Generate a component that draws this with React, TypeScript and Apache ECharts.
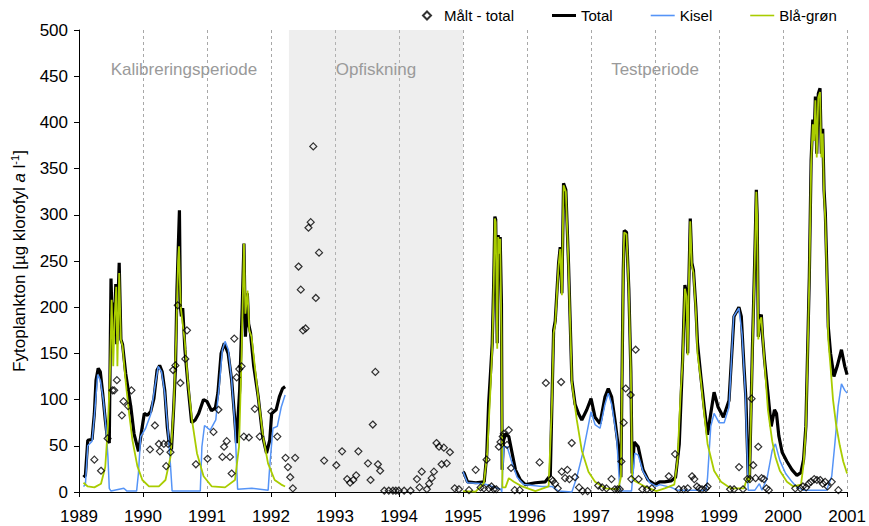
import React, { useEffect, useRef } from 'react';
import * as echarts from 'echarts';

const FONT = '"Liberation Sans", Arial, Helvetica, sans-serif';

const X_MIN = 1989;
const X_MAX = 2001;
const Y_MIN = 0;
const Y_MAX = 500;
const Y_STEP = 50;

const LEGEND_NAMES = ['Målt - total', 'Total', 'Kisel', 'Blå-grøn'];

const PERIODS = [
  { name: 'Kalibreringsperiode', from: 1989, to: 1992.28, shaded: false },
  { name: 'Opfiskning', from: 1992.28, to: 1995, shaded: true },
  { name: 'Testperiode', from: 1995, to: 2001, shaded: false },
];

// Model: total (calibration period)
const totalCal = [
  [1989.07,16],[1989.10,18],[1989.137,56],[1989.204,57],[1989.24,85],[1989.266,121],[1989.30,134],[1989.333,130],[1989.37,107],[1989.41,78],[1989.447,56],[1989.473,53],[1989.50,231],[1989.52,180],[1989.535,205],[1989.55,170],[1989.575,225],[1989.59,160],[1989.605,200],[1989.628,248],[1989.655,165],[1989.68,160],[1989.73,128],[1989.81,92],[1989.86,63],[1989.93,44],[1989.965,60],[1990.02,85],[1990.07,83],[1990.12,87],[1990.17,101],[1990.22,132],[1990.26,137],[1990.30,130],[1990.34,110],[1990.38,70],[1990.405,55],[1990.445,46],[1990.48,92],[1990.508,136],[1990.53,218],[1990.569,305],[1990.585,200],[1990.60,190],[1990.62,199],[1990.655,154],[1990.71,110],[1990.76,75],[1990.815,78],[1990.87,85],[1990.945,100],[1991.0,98],[1991.07,88],[1991.13,91],[1991.17,107],[1991.22,150],[1991.27,161],[1991.33,150],[1991.385,121],[1991.43,82],[1991.46,53],[1991.51,110],[1991.55,200],[1991.577,269],[1991.60,168],[1991.63,215],[1991.65,182],[1991.68,172],[1991.73,136],[1991.80,103],[1991.87,60],[1991.93,42],[1991.98,56],[1992.01,85],[1992.08,89],[1992.13,103],[1992.18,112],[1992.22,114]
];

const kiselCal = [
  [1989.07,6],[1989.10,8],[1989.137,50],[1989.204,55],[1989.24,82],[1989.292,127],[1989.333,121],[1989.38,100],[1989.42,71],[1989.452,38],[1989.473,4],[1989.50,1],[1989.70,4],[1989.75,1],[1989.90,1],[1989.928,20],[1989.964,60],[1990.041,69],[1990.12,84],[1990.186,114],[1990.238,136],[1990.29,130],[1990.34,107],[1990.393,64],[1990.43,28],[1990.455,1],[1990.895,1],[1990.92,49],[1990.961,72],[1991.05,67],[1991.137,78],[1991.19,114],[1991.24,154],[1991.282,163],[1991.333,154],[1991.385,121],[1991.437,71],[1991.478,3],[1991.70,4],[1991.955,2],[1991.98,28],[1992.03,69],[1992.098,71],[1992.16,92],[1992.22,105]
];

const greenCal = [
  [1989.07,10],[1989.137,6],[1989.24,5],[1989.344,9],[1989.41,27],[1989.452,71],[1989.483,127],[1989.51,208],[1989.535,136],[1989.555,186],[1989.582,222],[1989.60,136],[1989.628,237],[1989.654,165],[1989.68,158],[1989.731,118],[1989.783,85],[1989.835,56],[1989.912,28],[1989.99,13],[1990.093,6],[1990.248,6],[1990.351,13],[1990.43,38],[1990.48,92],[1990.517,165],[1990.548,250],[1990.562,266],[1990.575,230],[1990.59,200],[1990.62,182],[1990.65,165],[1990.703,118],[1990.765,78],[1990.843,42],[1990.946,17],[1991.075,6],[1991.282,5],[1991.437,13],[1991.50,49],[1991.54,147],[1991.577,269],[1991.60,193],[1991.633,218],[1991.66,175],[1991.695,168],[1991.747,136],[1991.80,103],[1991.876,60],[1991.953,31],[1992.057,13],[1992.16,8],[1992.22,6]
];

// Model: test period
const totalTest = [
  [1995.0,22],[1995.02,20],[1995.07,11],[1995.2,10],[1995.33,11],[1995.37,40],[1995.40,96],[1995.43,130],[1995.456,161],[1995.48,230],[1995.497,298],[1995.51,295],[1995.52,240],[1995.534,161],[1995.549,278],[1995.565,262],[1995.58,276],[1995.60,204],[1995.611,24],[1995.63,55],[1995.663,63],[1995.715,60],[1995.767,42],[1995.819,24],[1995.896,13],[1995.974,8],[1996.13,10],[1996.285,11],[1996.363,18],[1996.39,100],[1996.415,175],[1996.44,185],[1996.492,247],[1996.518,265],[1996.544,215],[1996.57,334],[1996.606,327],[1996.648,247],[1996.70,121],[1996.75,95],[1996.803,85],[1996.855,78],[1996.933,89],[1997.0,101],[1997.062,81],[1997.14,74],[1997.218,103],[1997.269,112],[1997.321,103],[1997.373,78],[1997.425,49],[1997.466,16],[1997.503,240],[1997.518,283],[1997.554,281],[1997.59,220],[1997.622,130],[1997.642,20],[1997.674,54],[1997.736,49],[1997.813,24],[1997.891,13],[1998.0,8],[1998.07,11],[1998.15,11],[1998.25,12],[1998.32,16],[1998.378,52],[1998.43,143],[1998.466,224],[1998.49,215],[1998.51,150],[1998.523,211],[1998.55,296],[1998.575,248],[1998.60,240],[1998.637,200],[1998.663,161],[1998.715,125],[1998.767,92],[1998.82,62],[1998.87,85],[1998.922,108],[1998.984,92],[1999.067,81],[1999.155,99],[1999.233,190],[1999.31,200],[1999.347,190],[1999.389,136],[1999.42,100],[1999.455,18],[1999.475,14],[1999.52,154],[1999.557,251],[1999.582,327],[1999.595,300],[1999.613,168],[1999.64,189],[1999.66,192],[1999.68,168],[1999.71,143],[1999.763,107],[1999.814,71],[1999.866,89],[1999.897,85],[1999.933,61],[1999.985,43],[2000.06,33],[2000.14,24],[2000.216,18],[2000.278,21],[2000.32,35],[2000.356,71],[2000.38,143],[2000.41,233],[2000.438,359],[2000.464,403],[2000.485,385],[2000.505,428],[2000.526,366],[2000.55,431],[2000.577,437],[2000.598,366],[2000.619,393],[2000.64,327],[2000.66,302],[2000.68,251],[2000.706,179],[2000.742,150],[2000.794,125],[2000.845,136],[2000.912,154],[2000.964,136],[2001.0,127]
];

const kiselTest = [
  [1995.0,22],[1995.067,10],[1995.326,9],[1995.456,6],[1995.59,3],[1995.605,0],[1995.637,49],[1995.689,49],[1995.767,31],[1995.845,16],[1995.948,8],[1996.233,6],[1996.389,6],[1996.492,1],[1996.70,0],[1996.777,16],[1996.881,45],[1997.0,87],[1997.062,73],[1997.14,69],[1997.218,95],[1997.269,107],[1997.321,95],[1997.399,60],[1997.451,1],[1997.632,1],[1997.684,42],[1997.736,40],[1997.813,22],[1997.917,10],[1998.02,6],[1998.07,8],[1998.25,5],[1998.35,2],[1998.80,2],[1998.82,16],[1998.87,71],[1998.922,85],[1999.0,75],[1999.08,75],[1999.155,92],[1999.228,190],[1999.31,199],[1999.36,170],[1999.41,108],[1999.44,40],[1999.455,2],[1999.56,2],[1999.63,9],[1999.67,2],[1999.75,15],[1999.83,45],[1999.88,52],[1999.95,34],[2000.04,20],[2000.14,11],[2000.216,5],[2000.32,2],[2000.68,2],[2000.76,17],[2000.81,53],[2000.86,93],[2000.912,117],[2000.964,110],[2001.0,107]
];

const greenTest = [
  [1995.0,1],[1995.197,0.5],[1995.326,10],[1995.378,42],[1995.43,114],[1995.456,155],[1995.48,225],[1995.497,296],[1995.51,292],[1995.52,238],[1995.534,155],[1995.549,276],[1995.565,258],[1995.58,274],[1995.60,170],[1995.615,5],[1995.663,5],[1995.715,15],[1995.793,11],[1995.922,6],[1996.13,1],[1996.337,6],[1996.389,96],[1996.415,172],[1996.44,182],[1996.492,245],[1996.518,263],[1996.544,213],[1996.57,332],[1996.606,325],[1996.648,245],[1996.70,118],[1996.777,78],[1996.855,45],[1996.959,22],[1997.062,11],[1997.218,4],[1997.425,3],[1997.466,16],[1997.503,238],[1997.518,281],[1997.554,279],[1997.59,218],[1997.622,128],[1997.642,16],[1997.684,12],[1997.839,6],[1998.02,1],[1998.15,4],[1998.30,8],[1998.35,34],[1998.40,108],[1998.43,140],[1998.466,220],[1998.49,212],[1998.51,148],[1998.523,208],[1998.55,293],[1998.575,245],[1998.60,237],[1998.637,196],[1998.663,150],[1998.715,121],[1998.767,85],[1998.82,52],[1998.922,23],[1999.03,11],[1999.18,4],[1999.39,4],[1999.44,16],[1999.475,10],[1999.52,150],[1999.557,248],[1999.582,325],[1999.595,298],[1999.613,165],[1999.64,186],[1999.66,189],[1999.685,165],[1999.71,140],[1999.763,89],[1999.83,55],[1999.88,38],[1999.95,23],[2000.06,11],[2000.16,6],[2000.28,8],[2000.32,30],[2000.356,68],[2000.38,140],[2000.41,230],[2000.438,355],[2000.464,398],[2000.485,380],[2000.505,424],[2000.526,362],[2000.55,427],[2000.577,433],[2000.598,362],[2000.619,388],[2000.64,322],[2000.66,295],[2000.68,245],[2000.706,165],[2000.742,135],[2000.78,100],[2000.83,72],[2000.887,50],[2000.94,33],[2001.0,20]
];

// Measured total
const measured = [
  [1989.24,35],[1989.344,23],[1989.447,58],[1989.524,110],[1989.55,110],[1989.592,121],[1989.67,83],[1989.695,98],[1989.767,93],[1989.819,110],[1990.109,46],[1990.186,72],[1990.248,52],[1990.264,44],[1990.326,52],[1990.362,28],[1990.393,52],[1990.429,43],[1990.47,132],[1990.506,137],[1990.543,202],[1990.584,118],[1990.661,144],[1990.687,175],[1990.826,30],[1991.008,36],[1991.101,65],[1991.178,89],[1991.24,38],[1991.266,49],[1991.308,55],[1991.359,38],[1991.385,20],[1991.426,166],[1991.463,124],[1991.504,133],[1991.54,136],[1991.576,60],[1991.654,59],[1991.747,90],[1991.824,60],[1992.005,87],[1992.098,60],[1992.227,37],[1992.264,27],[1992.30,16],[1992.341,4],[1992.377,37],
  [1992.43,244],[1992.465,219],[1992.50,175],[1992.54,177],[1992.585,286],[1992.62,292],[1992.66,374],[1992.70,210],[1992.75,259],[1992.83,34],[1993.02,29],[1993.11,44],[1993.19,14],[1993.235,10],[1993.285,13],[1993.33,18],[1993.365,44],[1993.515,31],[1993.555,13],[1993.59,73],[1993.63,130],[1993.67,30],[1993.705,23],[1993.77,1.4],[1993.84,1.4],[1993.905,1.4],[1993.95,1.4],[1993.995,1.4],[1994.08,1.4],[1994.18,1.4],[1994.28,14],[1994.32,5],[1994.355,22],[1994.435,3],[1994.47,9],[1994.51,15],[1994.545,22],[1994.585,53],[1994.625,49],[1994.665,30],[1994.70,48],[1994.745,31],[1994.795,43],[1994.87,4],[1994.935,3],
  [1995.093,2],[1995.197,24],[1995.274,5],[1995.326,4],[1995.367,35],[1995.404,4],[1995.445,6],[1995.481,3],[1995.518,3],[1995.559,49],[1995.585,54],[1995.62,60],[1995.637,63],[1995.688,51],[1995.714,67],[1995.75,26],[1995.807,2],[1995.885,2],[1996.196,32],[1996.294,118],[1996.377,14],[1996.403,12],[1996.439,9],[1996.48,4],[1996.532,119],[1996.542,22],[1996.594,15],[1996.63,24],[1996.661,14],[1996.698,53],[1996.75,16],[1996.812,5],[1996.869,1],[1996.946,1],[1997.112,7],[1997.174,5],[1997.241,4],[1997.319,14],[1997.371,3],[1997.412,3],[1997.448,3],[1997.474,33],[1997.51,75],[1997.541,112],[1997.619,105],[1997.697,154],[1997.629,14],[1997.743,14],[1997.80,3],[1997.873,3],[1997.95,4],[1998.214,17],[1998.313,41],[1998.37,3],[1998.447,3],[1998.51,4],[1998.577,17],[1998.613,14],[1998.654,6],[1998.69,4],[1998.732,3],[1998.794,4],[1998.82,6],[1999.172,3],[1999.234,3],[1999.312,27],[1999.374,3],[1999.441,14],[1999.482,14],[1999.508,101],[1999.534,29],[1999.57,15],[1999.612,49],[1999.664,15],[1999.70,14],[1999.741,4],[1999.777,2],[2000.19,4],[2000.27,4],[2000.31,6],[2000.36,5],[2000.40,9],[2000.435,11],[2000.487,14],[2000.528,13],[2000.58,13],[2000.62,9],[2000.657,11],[2000.694,6],[2000.76,11],[2000.864,2]
];

const BLACK = '#000000';
const BLUE = '#5594f7';
const GREEN = '#a9cc00';

const ICON_DIAMOND = 'path://M4,0L8,4L4,8L0,4Z';
const ICON_THICK = 'path://M0,0H24V3H0Z';
const ICON_THIN = 'path://M0,0H24V1.6H0Z';

export default function App() {
  const ref = useRef<HTMLDivElement>(null);

  useEffect(() => {
    if (!ref.current) return;
    const chart = echarts.init(ref.current, undefined, { renderer: 'svg' });

    const lineSeries = (name: string, data: number[][], color: string, width: number) => ({
      name,
      type: 'line',
      data,
      symbol: 'none',
      showSymbol: false,
      smooth: false,
      lineStyle: { color, width },
      itemStyle: { color },
      z: 2,
    });

    const legendIcons = [ICON_DIAMOND, ICON_THICK, ICON_THIN, ICON_THIN];

    const option: any = {
      animation: false,
      backgroundColor: '#ffffff',
      textStyle: { fontFamily: FONT },
      legend: {
        data: LEGEND_NAMES.map((n, i) => ({ name: n, icon: legendIcons[i] })),
        left: 417,
        top: 3,
        itemWidth: 24,
        itemHeight: 8,
        itemGap: 38,
        symbolKeepAspect: true,
        textStyle: { fontFamily: FONT, fontSize: 15, color: '#000' },
      },
      grid: { left: 79, right: 16.5, top: 30, bottom: 34, containLabel: false },
      xAxis: {
        type: 'value',
        min: X_MIN,
        max: X_MAX,
        interval: 1,
        axisLine: { show: true, lineStyle: { color: '#000', width: 1 } },
        axisTick: { show: true, length: 5, lineStyle: { color: '#000' } },
        axisLabel: {
          color: '#000',
          fontSize: 17,
          fontFamily: FONT,
          margin: 16,
          formatter: (v: number) => String(Math.round(v)),
        },
        splitLine: { show: true, lineStyle: { color: '#a8a8a8', type: [3, 3], width: 1 } },
      },
      yAxis: {
        type: 'value',
        min: Y_MIN,
        max: Y_MAX,
        interval: Y_STEP,
        name: '{a|Fytoplankton [µg klorofyl }{b|a}{a| l}{c|-1}{a|]}',
        nameLocation: 'middle',
        nameGap: 50,
        nameTextStyle: {
          color: '#000',
          fontSize: 17,
          fontFamily: FONT,
          rich: {
            a: { fontSize: 17, fontFamily: FONT, color: '#000', lineHeight: 20 },
            b: { fontSize: 17, fontFamily: FONT, color: '#000', fontStyle: 'italic', lineHeight: 20 },
            c: { fontSize: 11, fontFamily: FONT, color: '#000', verticalAlign: 'top', lineHeight: 12 },
          },
        },
        axisLine: { show: true, lineStyle: { color: '#000', width: 1 } },
        axisTick: { show: true, length: 5, lineStyle: { color: '#000' } },
        axisLabel: { color: '#000', fontSize: 17, fontFamily: FONT, margin: 11 },
        splitLine: { show: false },
      },
      series: [
        lineSeries('Total', totalCal, BLACK, 3.2),
        lineSeries('Total', totalTest, BLACK, 3.2),
        lineSeries('Kisel', kiselCal, BLUE, 1.5),
        lineSeries('Kisel', kiselTest, BLUE, 1.5),
        lineSeries('Blå-grøn', greenCal, GREEN, 1.8),
        lineSeries('Blå-grøn', greenTest, GREEN, 1.8),
        {
          name: 'Målt - total',
          type: 'scatter',
          data: measured,
          symbol: 'diamond',
          symbolSize: 7,
          itemStyle: { color: 'rgba(255,255,255,0)', borderColor: '#000', borderWidth: 1.2 },
          z: 3,
          markArea: {
            silent: true,
            label: {
              show: true,
              position: 'insideTop',
              distance: 31,
              color: '#9a9a9a',
              fontSize: 17,
              fontFamily: FONT,
            },
            data: PERIODS.map((p) => [
              {
                name: p.name,
                xAxis: p.from,
                itemStyle: { color: p.shaded ? 'rgba(200,200,200,0.3)' : 'rgba(255,255,255,0)' },
              },
              { xAxis: p.to },
            ]),
          },
        },
      ],
    };

    chart.setOption(option);
    return () => chart.dispose();
  }, []);

  return (
    <div
      ref={ref}
      style={{ position: 'fixed', left: 0, top: 0, width: 869, height: 526, background: '#fff' }}
    />
  );
}
